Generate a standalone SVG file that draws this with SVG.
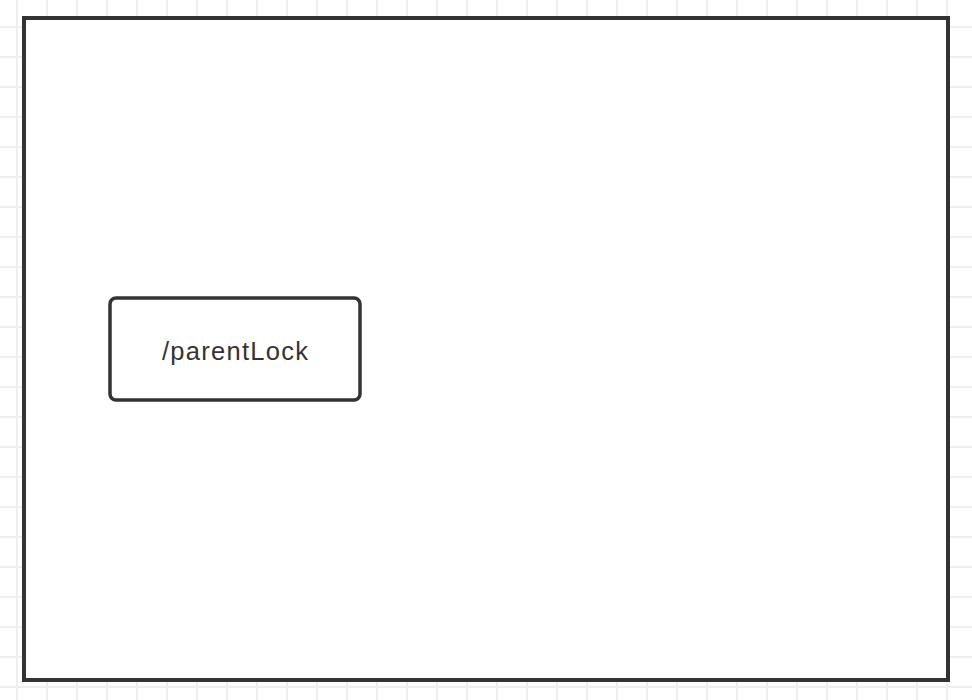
<svg xmlns="http://www.w3.org/2000/svg" width="972" height="700" viewBox="0 0 972 700">
  <defs>
    <pattern id="grid" x="2" y="12" width="30" height="30" patternUnits="userSpaceOnUse">
      <path d="M15 0V30M0 15H30" stroke="#efefef" stroke-width="2" fill="none"/>
    </pattern>
    <style>
      .frame{fill:#fff;stroke:#333;stroke-width:4}
      .node{fill:#fff;stroke:#333;stroke-width:3.5}
      .label{font-family:"Liberation Sans",Arial,sans-serif;font-size:25.5px;fill:#333}
    </style>
  </defs>
  <rect width="972" height="700" fill="#fff"/>
  <rect width="972" height="700" fill="url(#grid)"/>
  <g id="container">
    <rect class="frame" x="24" y="18" width="924" height="662"/>
  </g>
  <g id="parentLock">
    <rect class="node" x="110" y="298" width="250" height="102" rx="6"/>
    <text class="label" x="235" y="360" text-anchor="middle" textLength="146" lengthAdjust="spacing">/parentLock</text>
  </g>
  <g id="connectors"/>
</svg>
